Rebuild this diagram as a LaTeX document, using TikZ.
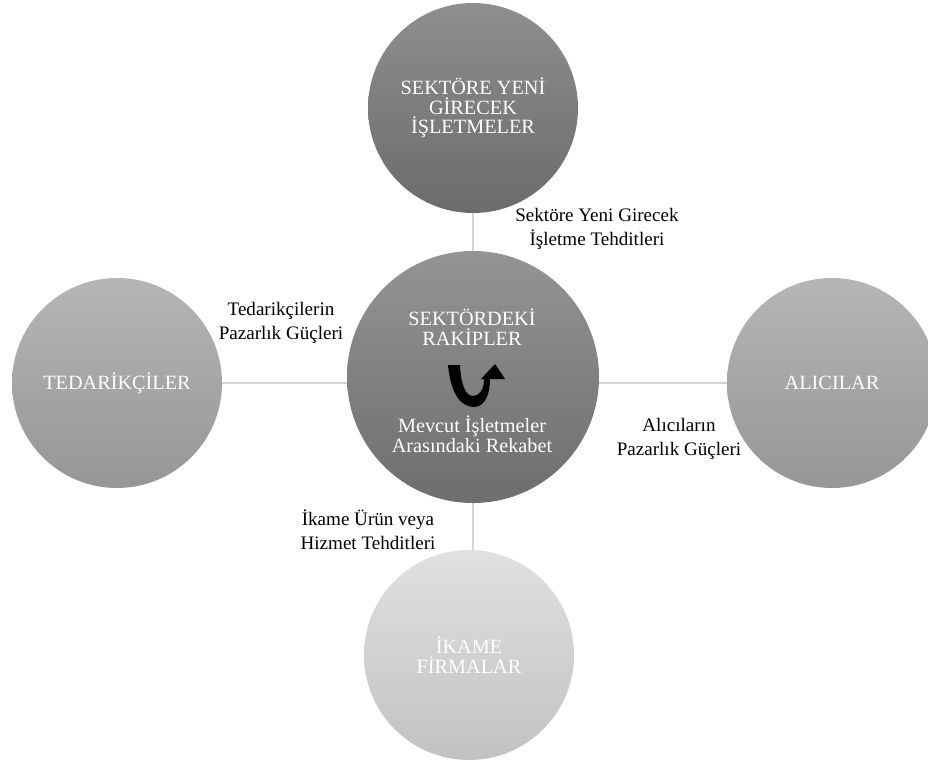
\documentclass[tikz,border=0pt]{standalone}
\usepackage{fontspec}
\setmainfont{Liberation Serif}
\usetikzlibrary{backgrounds}

\tikzset{
  force/.style={circle, minimum size=157.5pt, inner sep=0pt, text=white,
    align=center, font=\fontsize{15.2}{14.6}\selectfont},
  darkforce/.style={force, top color=black!44, bottom color=black!58},
  midforce/.style={force, minimum size=189pt, top color=black!42, bottom color=black!57},
  greyforce/.style={force, top color=black!29, bottom color=black!41},
  paleforce/.style={force, top color=black!12, bottom color=black!24},
  conn/.style={draw=black!17, line width=1.5pt},
  forcelabel/.style={align=center, text=black, inner sep=0pt,
    font=\fontsize{14.3}{18}\selectfont},
}

\begin{document}
\begin{tikzpicture}[x=0.75pt, y=-0.75pt]
  \useasboundingbox (0,0) rectangle (928,764);

  % the five forces
  \node[midforce]  (mid) at (473,377) {};
  \node[darkforce] (top) at (473,108) {SEKTÖRE YENİ\\GİRECEK\\İŞLETMELER};
  \node[greyforce] (lft) at (117,383) {TEDARİKÇİLER};
  \node[greyforce] (rgt) at (832,383) {ALICILAR};
  \node[paleforce] (bot) at (469,655) {İKAME\\FİRMALAR};

  % texts inside the central circle
  \node[text=white, align=center, font=\fontsize{15.2}{14.6}\selectfont]
    (rivals) at (472,327) {SEKTÖRDEKİ\\RAKİPLER};
  \node[text=white, align=center, font=\fontsize{15.2}{14.6}\selectfont]
    (rivalry) at (472,434) {Mevcut İşletmeler\\Arasındaki Rekabet};

  % U-turn arrow for the rivalry among firms
  \fill[black] (448,365) .. controls (451,396) and (462,407) .. (474,407)
    .. controls (485,407) and (490,394) .. (490,379)
    -- (505,379) -- (495,364) -- (481,379) -- (484,379)
    .. controls (484,390) and (479,396) .. (473,396)
    .. controls (466,396) and (461,386) .. (460,365) -- cycle;

  % connectors behind the circles
  \begin{pgfonlayer}{background}
    \draw[conn] (top) -- (mid);
    \draw[conn] (lft) -- (lft -| mid);
    \draw[conn] (rgt) -- (rgt -| mid);
    \draw[conn] (mid) -- (mid |- bot);
  \end{pgfonlayer}

  % connector labels
  \node[forcelabel] (lnew) at (597,229) {Sektöre Yeni Girecek\\İşletme Tehditleri};
  \node[forcelabel] (lsup) at (281,323) {Tedarikçilerin\\Pazarlık Güçleri};
  \node[forcelabel] (lbuy) at (679,439) {Alıcıların\\Pazarlık Güçleri};
  \node[forcelabel] (lsub) at (368,530) {İkame Ürün veya\\Hizmet Tehditleri};
\end{tikzpicture}
\end{document}
